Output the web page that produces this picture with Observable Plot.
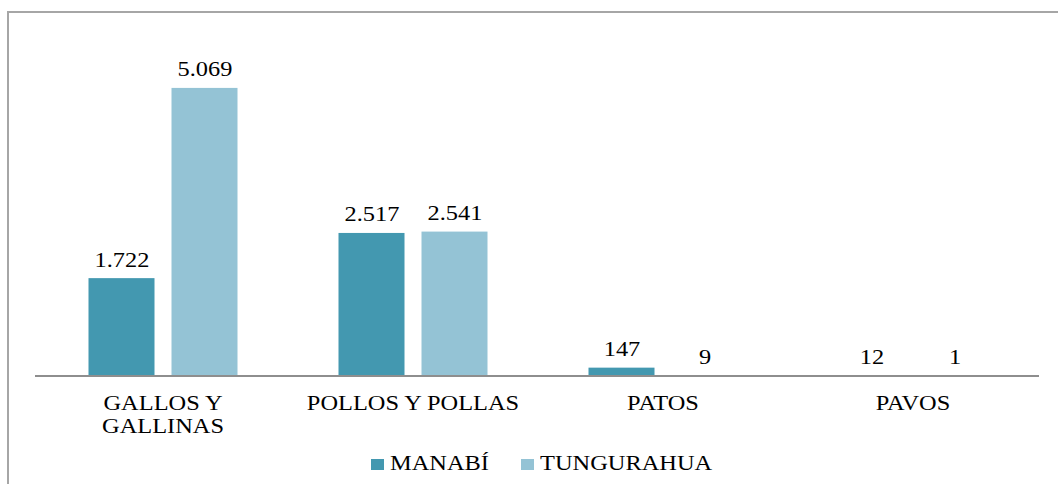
<!DOCTYPE html>
<html><head><meta charset="utf-8">
<script src="https://cdn.jsdelivr.net/npm/d3@7"></script>
<script src="https://cdn.jsdelivr.net/npm/@observablehq/plot@0.6"></script>
<style>
html,body{margin:0;padding:0;background:#fff;}
body{width:1058px;height:484px;overflow:hidden;position:relative;font-family:"Liberation Serif","Times New Roman",serif;}
#frame{position:absolute;left:7px;top:11px;width:1060px;height:480px;border-left:2px solid #a6a6a6;border-top:2px solid #a6a6a6;}
#chart{position:absolute;left:0;top:0;}
#legend{position:absolute;left:0;top:452.5px;width:1058px;height:20px;display:flex;justify-content:center;align-items:center;padding-left:25px;box-sizing:border-box;font-size:20px;color:#000;}
.item{display:flex;align-items:center;}
.sw{width:13px;height:11px;margin-right:6px;position:relative;top:1.5px;}
.lab{display:inline-block;transform:scaleX(1.22);transform-origin:left center;line-height:20px;white-space:nowrap;}
svg text{font-family:"Liberation Serif","Times New Roman",serif;}
</style></head>
<body>
<div id="frame"></div>
<div id="chart"></div>
<div id="legend"></div>
<script>
const categories = ["GALLOS Y GALLINAS", "POLLOS Y POLLAS", "PATOS", "PAVOS"];
const tickLabels = ["GALLOS Y\nGALLINAS", "POLLOS Y POLLAS", "PATOS", "PAVOS"];
const series = ["MANABÍ", "TUNGURAHUA"];
const manabi = [1722, 2517, 147, 12];
const tungurahua = [5069, 2541, 9, 1];
const colors = ["#4398b0", "#94c3d5"];

const values = [manabi, tungurahua];
const data = [];
series.forEach((s, si) => categories.forEach((c, ci) => data.push({category: c, region: s, value: values[si][ci]})));

const locale = d3.formatLocale({decimal: ",", thousands: ".", grouping: [3], currency: ["", ""]});
const fmt = locale.format(",d");
const font = "'Liberation Serif', 'Times New Roman', serif";

const plot = Plot.plot({
  width: 1058,
  height: 440,
  marginTop: 35,
  marginBottom: 64,
  marginLeft: 36.5,
  marginRight: 19.7,
  style: {fontFamily: font, fontSize: "20px", color: "#000", background: "transparent", overflow: "visible"},
  fx: {domain: categories, paddingInner: 0.405, paddingOuter: 0.2025, label: null},
  x: {domain: series, paddingInner: 0.205, paddingOuter: 0, axis: null},
  y: {domain: [0, 6000], axis: null},
  color: {domain: series, range: colors},
  marks: [
    Plot.barY(data, {fx: "category", x: "region", y: "value", fill: "region"}),
    Plot.text(data, {fx: "category", x: "region", y: "value", text: d => fmt(d.value), dy: -12, lineAnchor: "bottom", fontSize: 20, fill: "#000"}),
    Plot.axisFx({anchor: "bottom", tickSize: 0, tickPadding: 17.5, label: null, fontSize: 20, lineHeight: 1.15, tickFormat: d => tickLabels[categories.indexOf(d)], fill: "#000"})
  ]
});

// baseline across the whole plotting area, positioned by the y scale
const y0 = plot.scale("y").apply(0);
d3.select(plot).append("line")
  .attr("x1", 35).attr("x2", 1039)
  .attr("y1", y0).attr("y2", y0)
  .attr("stroke", "#8e8e8e").attr("stroke-width", 2);

// horizontal stretch of text to match the reference
d3.select(plot).selectAll("text").each(function() {
  const t = this.getAttribute("transform") || "";
  this.setAttribute("transform", (t + " scale(1.22,1)").trim());
});

document.getElementById("chart").appendChild(plot);

const legend = document.getElementById("legend");
series.forEach((s, i) => {
  const item = document.createElement("div");
  item.className = "item";
  const sw = document.createElement("span");
  sw.className = "sw";
  sw.style.background = colors[i];
  const lab = document.createElement("span");
  lab.className = "lab";
  lab.textContent = s;
  item.appendChild(sw);
  item.appendChild(lab);
  legend.appendChild(item);
});
legend.querySelectorAll(".lab").forEach((el, i) => {
  const w = el.offsetWidth;
  el.style.marginRight = (w * 0.22 + (i < series.length - 1 ? 32 : 0)) + "px";
});
</script>
</body></html>
